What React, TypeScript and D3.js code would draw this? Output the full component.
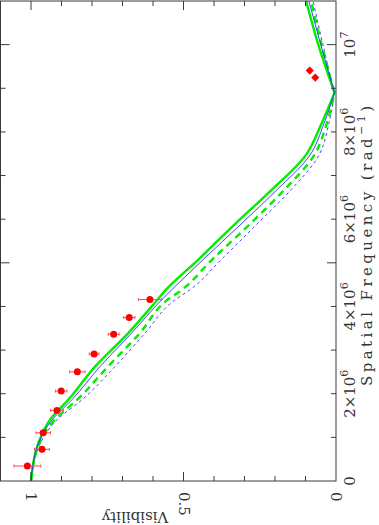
import React, { useEffect, useRef } from 'react';
import * as d3 from 'd3';

// spatial frequency in units of 1e6 rad^-1 (model grid), null at ~8.9e6
const modelFreq = [0, 0.87, 1.4, 1.86, 2.62, 3.39, 4.15, 4.38, 5.07, 5.91, 6.67, 7.44, 8.2, 8.9, 10.0, 11.0];
const greenSolid = [1.0, 0.976, 0.938, 0.878, 0.79, 0.681, 0.586, 0.558, 0.452, 0.328, 0.211, 0.102, 0.047, 0.005, 0.058, 0.098];
const blueSolid = [1.0, 0.975, 0.931, 0.866, 0.774, 0.67, 0.572, 0.539, 0.436, 0.308, 0.194, 0.088, 0.039, 0.005, 0.05, 0.089];
const greenDashed = [1.0, 0.972, 0.922, 0.849, 0.748, 0.643, 0.553, 0.506, 0.407, 0.279, 0.17, 0.074, 0.03, 0.005, 0.047, 0.082];
const blueDashed = [1.0, 0.969, 0.915, 0.833, 0.725, 0.626, 0.528, 0.479, 0.377, 0.256, 0.148, 0.058, 0.023, 0.005, 0.043, 0.075];
const nullIndex = 13;

// observed visibilities
const obsFreq = [0.343, 0.725, 1.105, 1.618, 2.06, 2.501, 2.913, 3.364, 3.746, 4.158];
const obsVis = [1.012, 0.964, 0.96, 0.915, 0.901, 0.848, 0.793, 0.729, 0.678, 0.61];
const obsErr = [0.044, 0.024, 0.024, 0.021, 0.019, 0.025, 0.016, 0.018, 0.019, 0.038];

// diamonds beyond the null
const extraFreq = [9.405, 9.245];
const extraVis = [0.086, 0.068];

const visLabels = [
  { v: 1, text: '1' },
  { v: 0.5, text: '0.5' },
  { v: 0, text: '0' },
];
const freqLabels = [
  { f: 0, base: '0', exp: '' },
  { f: 2, base: '2×10', exp: '6' },
  { f: 4, base: '4×10', exp: '6' },
  { f: 6, base: '6×10', exp: '6' },
  { f: 8, base: '8×10', exp: '6' },
  { f: 10, base: '10', exp: '7' },
];

const W = 379;
const H = 525;
const FONT = '"DejaVu Serif", serif';

export default function App() {
  const svgRef = useRef<SVGSVGElement>(null);

  useEffect(() => {
    const svg = d3.select(svgRef.current);
    svg.selectAll('*').remove();

    const left = 0.5, right = 336, top = 1, bottom = 481;

    // visibility runs horizontally (1 at left, 0 at right), frequency vertically
    const x = d3.scaleLinear().domain([1.1, 0]).range([left, right]);
    const y = d3.scaleLinear().domain([0, 11]).range([bottom, top]);

    svg.append('defs').append('clipPath').attr('id', 'plotClip')
      .append('rect')
      .attr('x', left).attr('y', top)
      .attr('width', right - left).attr('height', bottom - top);

    const plot = svg.append('g').attr('clip-path', 'url(#plotClip)');

    const line = d3.line<[number, number]>()
      .x((d) => x(d[1]))
      .y((d) => y(d[0]))
      .curve(d3.curveMonotoneY);

    const models = [
      { vals: blueDashed, color: '#2f2fff', width: 0.9, dash: '3,3' },
      { vals: greenDashed, color: '#00ee00', width: 2.4, dash: '7,5' },
      { vals: greenSolid, color: '#00ee00', width: 2.4, dash: null },
      { vals: blueSolid, color: '#2f2fff', width: 0.9, dash: null },
    ];

    models.forEach((m) => {
      const pts: [number, number][] = modelFreq.map((f, i) => [f, m.vals[i]]);
      const segs = [pts.slice(0, nullIndex + 1), pts.slice(nullIndex)];
      segs.forEach((seg) => {
        plot.append('path')
          .datum(seg)
          .attr('fill', 'none')
          .attr('stroke', m.color)
          .attr('stroke-width', m.width)
          .attr('stroke-dasharray', m.dash)
          .attr('d', line);
      });
    });

    // error bars
    const obs = obsFreq.map((f, i) => ({ f, v: obsVis[i], e: obsErr[i] }));
    const bars = plot.append('g').attr('stroke', '#ff4d4d').attr('stroke-width', 1);
    obs.forEach((d) => {
      const yy = y(d.f);
      bars.append('line')
        .attr('x1', x(d.v + d.e)).attr('x2', x(d.v - d.e))
        .attr('y1', yy).attr('y2', yy);
      [d.v + d.e, d.v - d.e].forEach((v) => {
        bars.append('line')
          .attr('x1', x(v)).attr('x2', x(v))
          .attr('y1', yy - 1.5).attr('y2', yy + 1.5);
      });
    });
    plot.append('g').selectAll('circle')
      .data(obs)
      .enter().append('circle')
      .attr('cx', (d) => x(d.v))
      .attr('cy', (d) => y(d.f))
      .attr('r', 3.5)
      .attr('fill', '#ff0000');

    plot.append('g').selectAll('path')
      .data(extraFreq.map((f, i) => ({ f, v: extraVis[i] })))
      .enter().append('path')
      .attr('d', d3.symbol().type(d3.symbolDiamond2).size(42))
      .attr('transform', (d) => `translate(${x(d.v)},${y(d.f)})`)
      .attr('fill', '#ff0000');

    // frame
    const axisColor = '#3a3a3a';
    svg.append('rect')
      .attr('x', left).attr('y', top)
      .attr('width', right - left).attr('height', bottom - top)
      .attr('fill', 'none')
      .attr('stroke', axisColor)
      .attr('stroke-width', 1);

    const ticks = svg.append('g').attr('stroke', axisColor).attr('stroke-width', 1);
    d3.range(1, 11).forEach((k) => {
      const v = k / 10;
      const len = k % 5 === 0 ? 9 : 5;
      const xx = x(v);
      ticks.append('line').attr('x1', xx).attr('x2', xx).attr('y1', top).attr('y2', top + len);
      ticks.append('line').attr('x1', xx).attr('x2', xx).attr('y1', bottom).attr('y2', bottom - len);
    });
    d3.range(1, 11).forEach((k) => {
      const len = k % 5 === 0 ? 9 : 5;
      const yy = y(k);
      ticks.append('line').attr('x1', left).attr('x2', left + len).attr('y1', yy).attr('y2', yy);
      ticks.append('line').attr('x1', right).attr('x2', right - len).attr('y1', yy).attr('y2', yy);
    });

    // visibility labels (rotated, read top to bottom)
    visLabels.forEach((d) => {
      svg.append('text')
        .attr('transform', `translate(${x(d.v)},${bottom + 11}) rotate(90)`)
        .attr('text-anchor', 'start')
        .attr('dominant-baseline', 'central')
        .style('font-family', FONT)
        .style('font-size', '15px')
        .attr('fill', '#333')
        .text(d.text);
    });

    svg.append('text')
      .attr('transform', `translate(135,512) rotate(180)`)
      .attr('text-anchor', 'middle')
      .style('font-family', FONT)
      .style('font-size', '15px')
      .attr('fill', '#333')
      .text('Visibility');

    // frequency labels (rotated, read bottom to top)
    freqLabels.forEach((d) => {
      const t = svg.append('text')
        .attr('transform', `translate(355,${y(d.f)}) rotate(-90)`)
        .attr('text-anchor', 'middle')
        .style('font-family', FONT)
        .style('font-size', '15px')
        .attr('fill', '#333');
      t.append('tspan').text(d.base);
      if (d.exp) {
        t.append('tspan').attr('dy', -7).style('font-size', '11px').text(d.exp);
      }
    });

    const title = svg.append('text')
      .attr('transform', `translate(372,246) rotate(-90)`)
      .attr('text-anchor', 'middle')
      .attr('textLength', 280)
      .attr('lengthAdjust', 'spacing')
      .style('font-family', FONT)
      .style('font-size', '15px')
      .attr('fill', '#333');
    title.append('tspan').text('Spatial Frequency (rad');
    title.append('tspan').attr('dy', -7).style('font-size', '11px').text('−1');
    title.append('tspan').attr('dy', 7).text(')');
  }, []);

  return (
    <svg
      ref={svgRef}
      width={W}
      height={H}
      style={{ position: 'absolute', left: 0, top: 0, background: '#fff' }}
    />
  );
}
